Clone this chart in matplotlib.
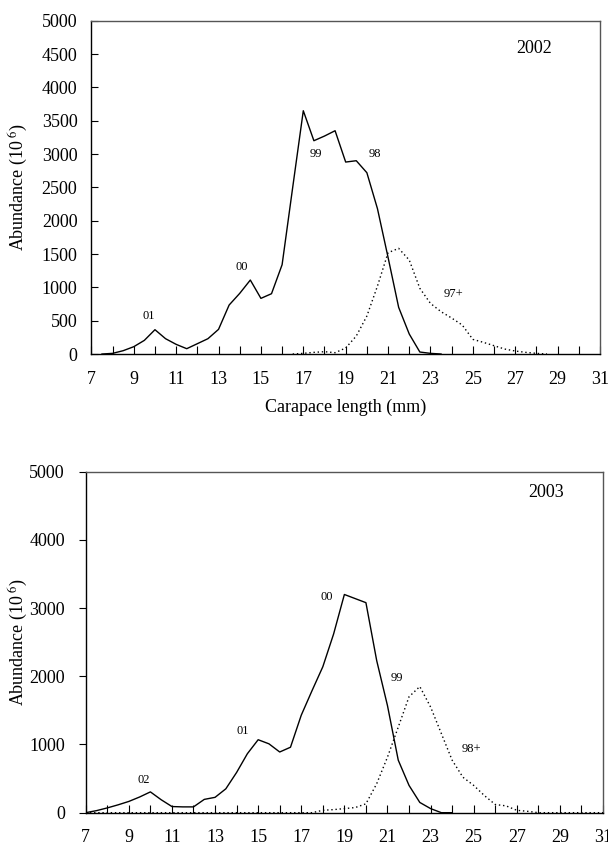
import numpy as np
import matplotlib
matplotlib.use("Agg")
import matplotlib.pyplot as plt

plt.rcParams["font.family"] = ["Liberation Serif", "DejaVu Serif"]
plt.rcParams["mathtext.fontset"] = "stix"

# 2002 length frequency (abundance, 10^6) by carapace length (mm)
x2002Solid = np.arange(7.5, 23.51, 0.5)
y2002Solid = [0, 10, 50, 110, 205, 365, 230, 145, 80, 155, 230, 370, 735, 910, 1110, 835,
              905, 1340, 2500, 3650, 3200, 3270, 3350, 2880, 2900, 2720, 2180, 1450, 700,
              300, 30, 10, 0]
x2002Dot = np.arange(16.5, 28.51, 0.5)
y2002Dot = [0, 10, 25, 35, 20, 90, 270, 570, 1020, 1520, 1585, 1410, 985, 760, 635, 540,
            435, 220, 175, 125, 75, 45, 25, 10, 0]

# 2003
x2003Solid = np.arange(7.0, 24.01, 0.5)
y2003Solid = [0, 30, 70, 115, 165, 230, 305, 190, 90, 85, 85, 195, 225, 350, 590, 865,
              1070, 1010, 890, 960, 1430, 1790, 2140, 2620, 3200, 3140, 3080, 2230, 1570,
              770, 400, 150, 60, 0, 0]
x2003Dot = np.arange(7.0, 31.01, 0.5)
y2003Dot = [0] * 22 + [35, 45, 60, 75, 130, 425, 815, 1255, 1700, 1850, 1550, 1160, 770,
                       520, 400, 250, 120, 100, 35, 20] + [0] * 7

# cohort labels: (text, x, y)
labels2002 = [("01", 9.7, 570), ("00", 14.1, 1310), ("99", 17.6, 3000),
              ("98", 20.4, 3000), ("97+", 24.1, 900)]
labels2003 = [("02", 9.7, 480), ("01", 14.3, 1200), ("00", 18.2, 3170),
              ("99", 21.45, 1980), ("98+", 24.9, 930)]

xTicks = np.arange(7, 32, 2)
xMinor = np.arange(7, 32, 1)

fig = plt.figure(figsize=(6.08, 8.5), dpi=100)
ax1 = fig.add_axes([0.1503, 0.5835, 0.8365, 0.3921])
ax2 = fig.add_axes([0.141, 0.0439, 0.8508, 0.4011])


def styleAxes(ax, yTicks, yDir):
    ax.set_xlim(7, 31)
    ax.set_ylim(0, 5000)
    ax.set_xticks(xTicks)
    ax.set_xticks(xMinor, minor=True)
    ax.set_yticks(yTicks)
    ax.tick_params(axis="x", which="both", direction="in", length=6, width=0.8,
                   labelsize=13, pad=12)
    ax.tick_params(axis="y", direction=yDir, length=5, width=0.8, labelsize=13, pad=10)
    for side in ["left", "bottom"]:
        ax.spines[side].set_color("black")
        ax.spines[side].set_linewidth(1.0)
    for side in ["top", "right"]:
        ax.spines[side].set_color("#555555")
        ax.spines[side].set_linewidth(1.0)


def drawYear(ax, xs, ys, xd, yd, labels, year, yearPos):
    ax.plot(xs, ys, color="black", linewidth=1.0)
    ax.plot(xd, yd, color="black", linewidth=1.0, linestyle=(0, (1, 2)))
    for text, lx, ly in labels:
        ax.text(lx, ly, text, fontsize=9, ha="center", va="center")
    ax.text(yearPos[0], yearPos[1], year, fontsize=13, ha="center", va="center")


drawYear(ax1, x2002Solid, y2002Solid, x2002Dot, y2002Dot, labels2002, "2002", (27.9, 4580))
styleAxes(ax1, np.arange(0, 5001, 500), "in")
ax1.set_xlabel("Carapace length (mm)", fontsize=13, labelpad=8)
ax1.set_ylabel("Abundance (10$^{\\ 6}$)", fontsize=13)
ax1.yaxis.set_label_coords(-0.121, 0.5)

drawYear(ax2, x2003Solid, y2003Solid, x2003Dot, y2003Dot, labels2003, "2003", (28.35, 4700))
styleAxes(ax2, np.arange(0, 5001, 1000), "out")
ax2.set_ylabel("Abundance (10$^{\\ 6}$)", fontsize=13)
ax2.yaxis.set_label_coords(-0.108, 0.5)

fig.savefig("out.png", dpi=100, facecolor="white")
